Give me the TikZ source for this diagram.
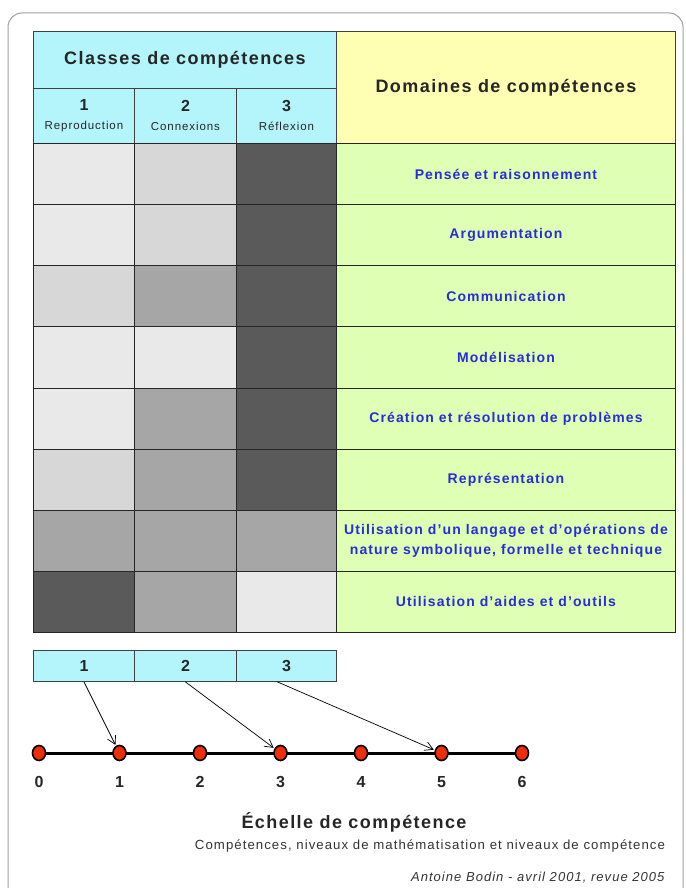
\documentclass[tikz,border=0pt]{standalone}
\usepackage{fontspec}
\setmainfont{Liberation Sans}[LetterSpace=8]
\usepackage{xcolor}
\usetikzlibrary{arrows.meta, positioning, shapes.geometric, backgrounds}

\definecolor{hdrcyan}{RGB}{180,245,252}
\definecolor{hdryellow}{RGB}{255,255,180}
\definecolor{domgreen}{RGB}{222,255,180}
\definecolor{domblue}{RGB}{38,46,215}
\definecolor{gA}{RGB}{233,233,233}
\definecolor{gB}{RGB}{215,215,215}
\definecolor{gC}{RGB}{166,166,166}
\definecolor{gD}{RGB}{90,90,90}
\definecolor{dotred}{RGB}{240,45,10}

\begin{document}
\begin{tikzpicture}[x=1pt, y=-1pt,
  cell/.style={draw=black!85, line width=0.9pt, anchor=north west, inner sep=0pt, minimum height=61.125pt},
  hdr/.style={draw=black!75, line width=0.9pt, anchor=north west, inner sep=0pt, fill=hdrcyan, text=black!85, align=center},
  dom/.style={cell, fill=domgreen, minimum width=339pt, text=domblue, align=center, font=\fontsize{14}{20}\selectfont\bfseries},
  grade/.style={ellipse, draw=black, line width=1.6pt, fill=dotred, minimum width=13pt, minimum height=15pt, inner sep=0pt},
  gradenum/.style={font=\fontsize{16}{18}\selectfont\bfseries, text=black!85},
  link/.style={-{Straight Barb[length=8pt, width=9pt]}, line width=0.7pt, shorten >=1pt}
]
  \useasboundingbox (0,0) rectangle (685,888);

  % outer frame
  \draw[gray!75, line width=1pt, rounded corners=14pt] (8,13) rectangle (683,920);

  % header
  \node[hdr, minimum width=303pt, minimum height=57pt, font=\fontsize{18}{20}\selectfont\bfseries] (classes) at (33,31) {Classes de compétences};
  \node[hdr, fill=hdryellow, minimum width=339pt, minimum height=112pt, font=\fontsize{18}{20}\selectfont\bfseries] (domaines) at (336,31) {Domaines de compétences};
  \node[hdr, minimum width=101pt, minimum height=55pt] (k1) at (33,88)
    {\fontsize{16}{18}\selectfont\bfseries 1\\[7pt]\fontsize{11.5}{13}\selectfont Reproduction};
  \node[hdr, minimum width=102pt, minimum height=55pt] (k2) at (134,88)
    {\fontsize{16}{18}\selectfont\bfseries 2\\[7pt]\fontsize{11.5}{13}\selectfont Connexions};
  \node[hdr, minimum width=100pt, minimum height=55pt] (k3) at (236,88)
    {\fontsize{16}{18}\selectfont\bfseries 3\\[7pt]\fontsize{11.5}{13}\selectfont Réflexion};

  % grey cells and domains
  \foreach \r/\fa/\fb/\fc/\txt in {
      1/gA/gB/gD/{Pensée et raisonnement},
      2/gA/gB/gD/{Argumentation},
      3/gB/gC/gD/{Communication},
      4/gA/gA/gD/{Modélisation},
      5/gA/gC/gD/{Création et résolution de problèmes},
      6/gB/gC/gD/{Représentation},
      7/gC/gC/gC/{Utilisation d'un langage et d'opérations de\\nature symbolique, formelle et technique\hfill},
      8/gD/gC/gA/{Utilisation d'aides et d'outils}} {
    \pgfmathsetmacro\ytop{143+61.125*(\r-1)}
    \node[cell, fill=\fa, minimum width=101pt] (c\r-1) at (33,\ytop) {};
    \node[cell, fill=\fb, minimum width=102pt] (c\r-2) at (134,\ytop) {};
    \node[cell, fill=\fc, minimum width=100pt] (c\r-3) at (236,\ytop) {};
    \node[dom] (d\r) at (336,\ytop) {\txt};
  }

  % classes below the table
  \node[hdr, minimum width=101pt, minimum height=31pt, font=\fontsize{16}{18}\selectfont\bfseries] (b1) at (33,650) {1};
  \node[hdr, minimum width=102pt, minimum height=31pt, font=\fontsize{16}{18}\selectfont\bfseries] (b2) at (134,650) {2};
  \node[hdr, minimum width=100pt, minimum height=31pt, font=\fontsize{16}{18}\selectfont\bfseries] (b3) at (236,650) {3};

  % scale
  \foreach \k in {0,...,6} {
    \node[grade] (g\k) at (39+80.5*\k,753) {};
    \node[gradenum] (l\k) at (39+80.5*\k,782) {\k};
  }
  \begin{scope}[on background layer]
    \draw[line width=3pt] (g0.center) -- (g6.center);
  \end{scope}

  \draw[link] (b1.south) -- (g1);
  \draw[link] (b2.south) -- (g3);
  \draw[link] ([xshift=-9pt]b3.south) -- (g5);

  % captions
  \node[font=\fontsize{18}{20}\selectfont\bfseries, text=black!85] (titre) at (354,822) {Échelle de compétence};
  \node[font=\fontsize{13.2}{15}\selectfont, text=black!80] (soustitre) at (430,846) {Compétences, niveaux de mathématisation et niveaux de compétence};
  \node[font=\fontsize{13}{15}\selectfont\itshape, text=black!80, anchor=east] (auteur) at (668,878) {Antoine Bodin - avril 2001, revue 2005};
\end{tikzpicture}
\end{document}
